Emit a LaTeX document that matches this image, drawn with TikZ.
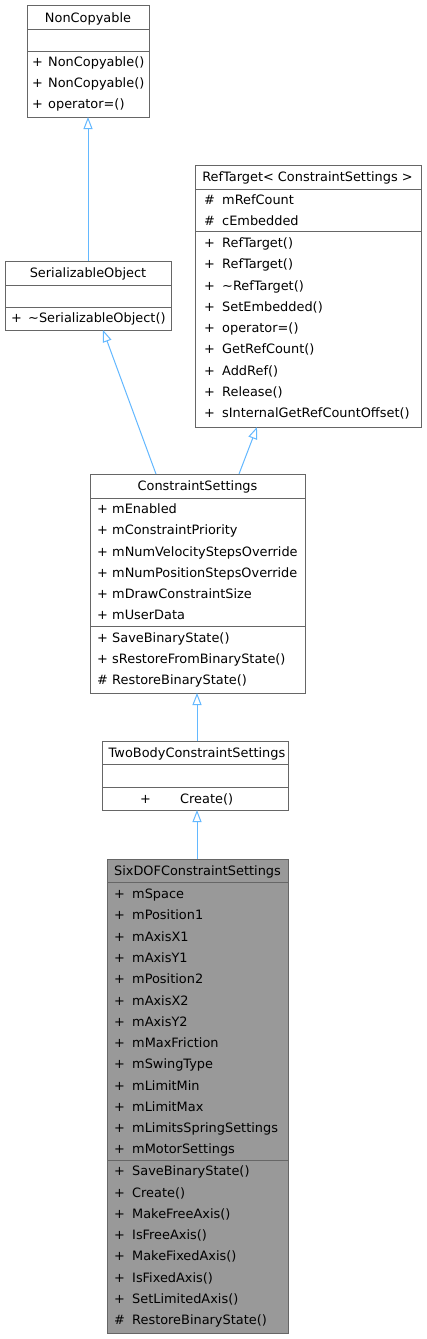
\documentclass[tikz,border=0pt]{standalone}
\usepackage{fontspec}
\setmainfont{DejaVu Sans}
\usetikzlibrary{arrows.meta,calc}
\definecolor{bord}{HTML}{666666}
\definecolor{edgec}{HTML}{63B8FF}
\definecolor{hl}{HTML}{999999}
\tikzset{
  box/.style={draw=bord, line width=1pt, anchor=north west, inner sep=0pt, outer sep=0pt},
  sepline/.style={draw=bord, line width=1pt},
  txt/.style={anchor=base west, inner sep=0pt, font=\fontsize{12.9}{15}\selectfont},
  ttl/.style={anchor=base, inner sep=0pt, font=\fontsize{12.9}{15}\selectfont},
  inh/.style={draw=edgec, line width=1pt, -{Triangle[open, length=12pt, width=9pt, line width=1pt]}}
}
% #1 name prefix, #2 symbol x, #3 text x, #4 first baseline, #5 step, #6 list
\newcommand\umlrows[6]{%
  \foreach \s/\t [count=\i] in {#6}{%
    \node[txt] (#1s\i) at (#2,{#4+#5*(\i-1)}) {\s};
    \node[txt] (#1t\i) at (#3,{#4+#5*(\i-1)}) {\t};
  }%
}
\begin{document}
\begin{tikzpicture}[x=1pt,y=-1pt]
\useasboundingbox (0,0) rectangle (426,1339);
\fill[white] (0,0) rectangle (426,1339);

% NonCopyable
\node[box, minimum width=122pt, minimum height=112pt] (nc) at (27,5) {};
\draw[sepline] (27,29) -- (149,29);
\draw[sepline] (27,51) -- (149,51);
\node[ttl] (nct) at (88,22.5) {NonCopyable};
\umlrows{ncm}{32}{48}{66.7}{21}{+/NonCopyable(),+/NonCopyable(),+/operator=()}

% SerializableObject
\node[box, minimum width=166pt, minimum height=69pt] (so) at (5,261) {};
\draw[sepline] (5,285) -- (171,285);
\draw[sepline] (5,307) -- (171,307);
\node[ttl] (sot) at (88,277.5) {SerializableObject};
\umlrows{som}{11}{28}{322}{21}{+/\textasciitilde SerializableObject()}

% RefTarget
\node[box, minimum width=226pt, minimum height=262pt] (rt) at (195,165) {};
\draw[sepline] (195,189) -- (421,189);
\draw[sepline] (195,231) -- (421,231);
\node[ttl] (rtt) at (307.5,181.5) {RefTarget< ConstraintSettings >};
\umlrows{rta}{204}{222}{204.7}{21}{\#/mRefCount,\#/cEmbedded}
\umlrows{rtm}{204}{222}{247.7}{21.25}{+/RefTarget(),+/RefTarget(),+/\textasciitilde RefTarget(),+/SetEmbedded(),+/operator=(),+/GetRefCount(),+/AddRef(),+/Release(),+/sInternalGetRefCountOffset()}

% ConstraintSettings
\node[box, minimum width=215pt, minimum height=219pt] (cs) at (90,474) {};
\draw[sepline] (90,498) -- (305,498);
\draw[sepline] (90,626) -- (305,626);
\node[ttl] (cst) at (197.5,490.5) {ConstraintSettings};
\umlrows{csa}{97}{112}{513.7}{21.2}{+/mEnabled,+/mConstraintPriority,+/mNumVelocityStepsOverride,+/mNumPositionStepsOverride,+/mDrawConstraintSize,+/mUserData}
\umlrows{csm}{97}{112}{642.7}{21}{+/SaveBinaryState(),+/sRestoreFromBinaryState(),\#/RestoreBinaryState()}

% TwoBodyConstraintSettings
\node[box, minimum width=186pt, minimum height=69pt] (tb) at (102,741) {};
\draw[sepline] (102,764) -- (288,764);
\draw[sepline] (102,787) -- (288,787);
\node[ttl] (tbt) at (197,757) {TwoBodyConstraintSettings};
\umlrows{tbm}{140}{180}{803}{21}{+/Create()}

% SixDOFConstraintSettings
\node[box, fill=hl, minimum width=181pt, minimum height=474pt] (sd) at (107,859) {};
\draw[sepline] (107,882) -- (288,882);
\draw[sepline] (107,1160) -- (288,1160);
\node[ttl] (sdt) at (197.5,875) {SixDOFConstraintSettings};
\umlrows{sda}{114}{132}{898.7}{21.27}{+/mSpace,+/mPosition1,+/mAxisX1,+/mAxisY1,+/mPosition2,+/mAxisX2,+/mAxisY2,+/mMaxFriction,+/mSwingType,+/mLimitMin,+/mLimitMax,+/mLimitsSpringSettings,+/mMotorSettings}
\umlrows{sdm}{114}{132}{1175.7}{21.3}{+/SaveBinaryState(),+/Create(),+/MakeFreeAxis(),+/IsFreeAxis(),+/MakeFixedAxis(),+/IsFixedAxis(),+/SetLimitedAxis(),\#/RestoreBinaryState()}

% inheritance connectors
\draw[inh] (so.north) -- (nc.south);
\draw[inh] ($(cs.north west)+(66,0)$) -- ($(so.south west)+(98,0)$);
\draw[inh] ($(cs.north west)+(149,0)$) -- ($(rt.south west)+(62,0)$);
\draw[inh] ($(tb.north west)+(95,0)$) -- ($(cs.south west)+(107,0)$);
\draw[inh] ($(sd.north west)+(90,0)$) -- ($(tb.south west)+(95,0)$);
\end{tikzpicture}
\end{document}
